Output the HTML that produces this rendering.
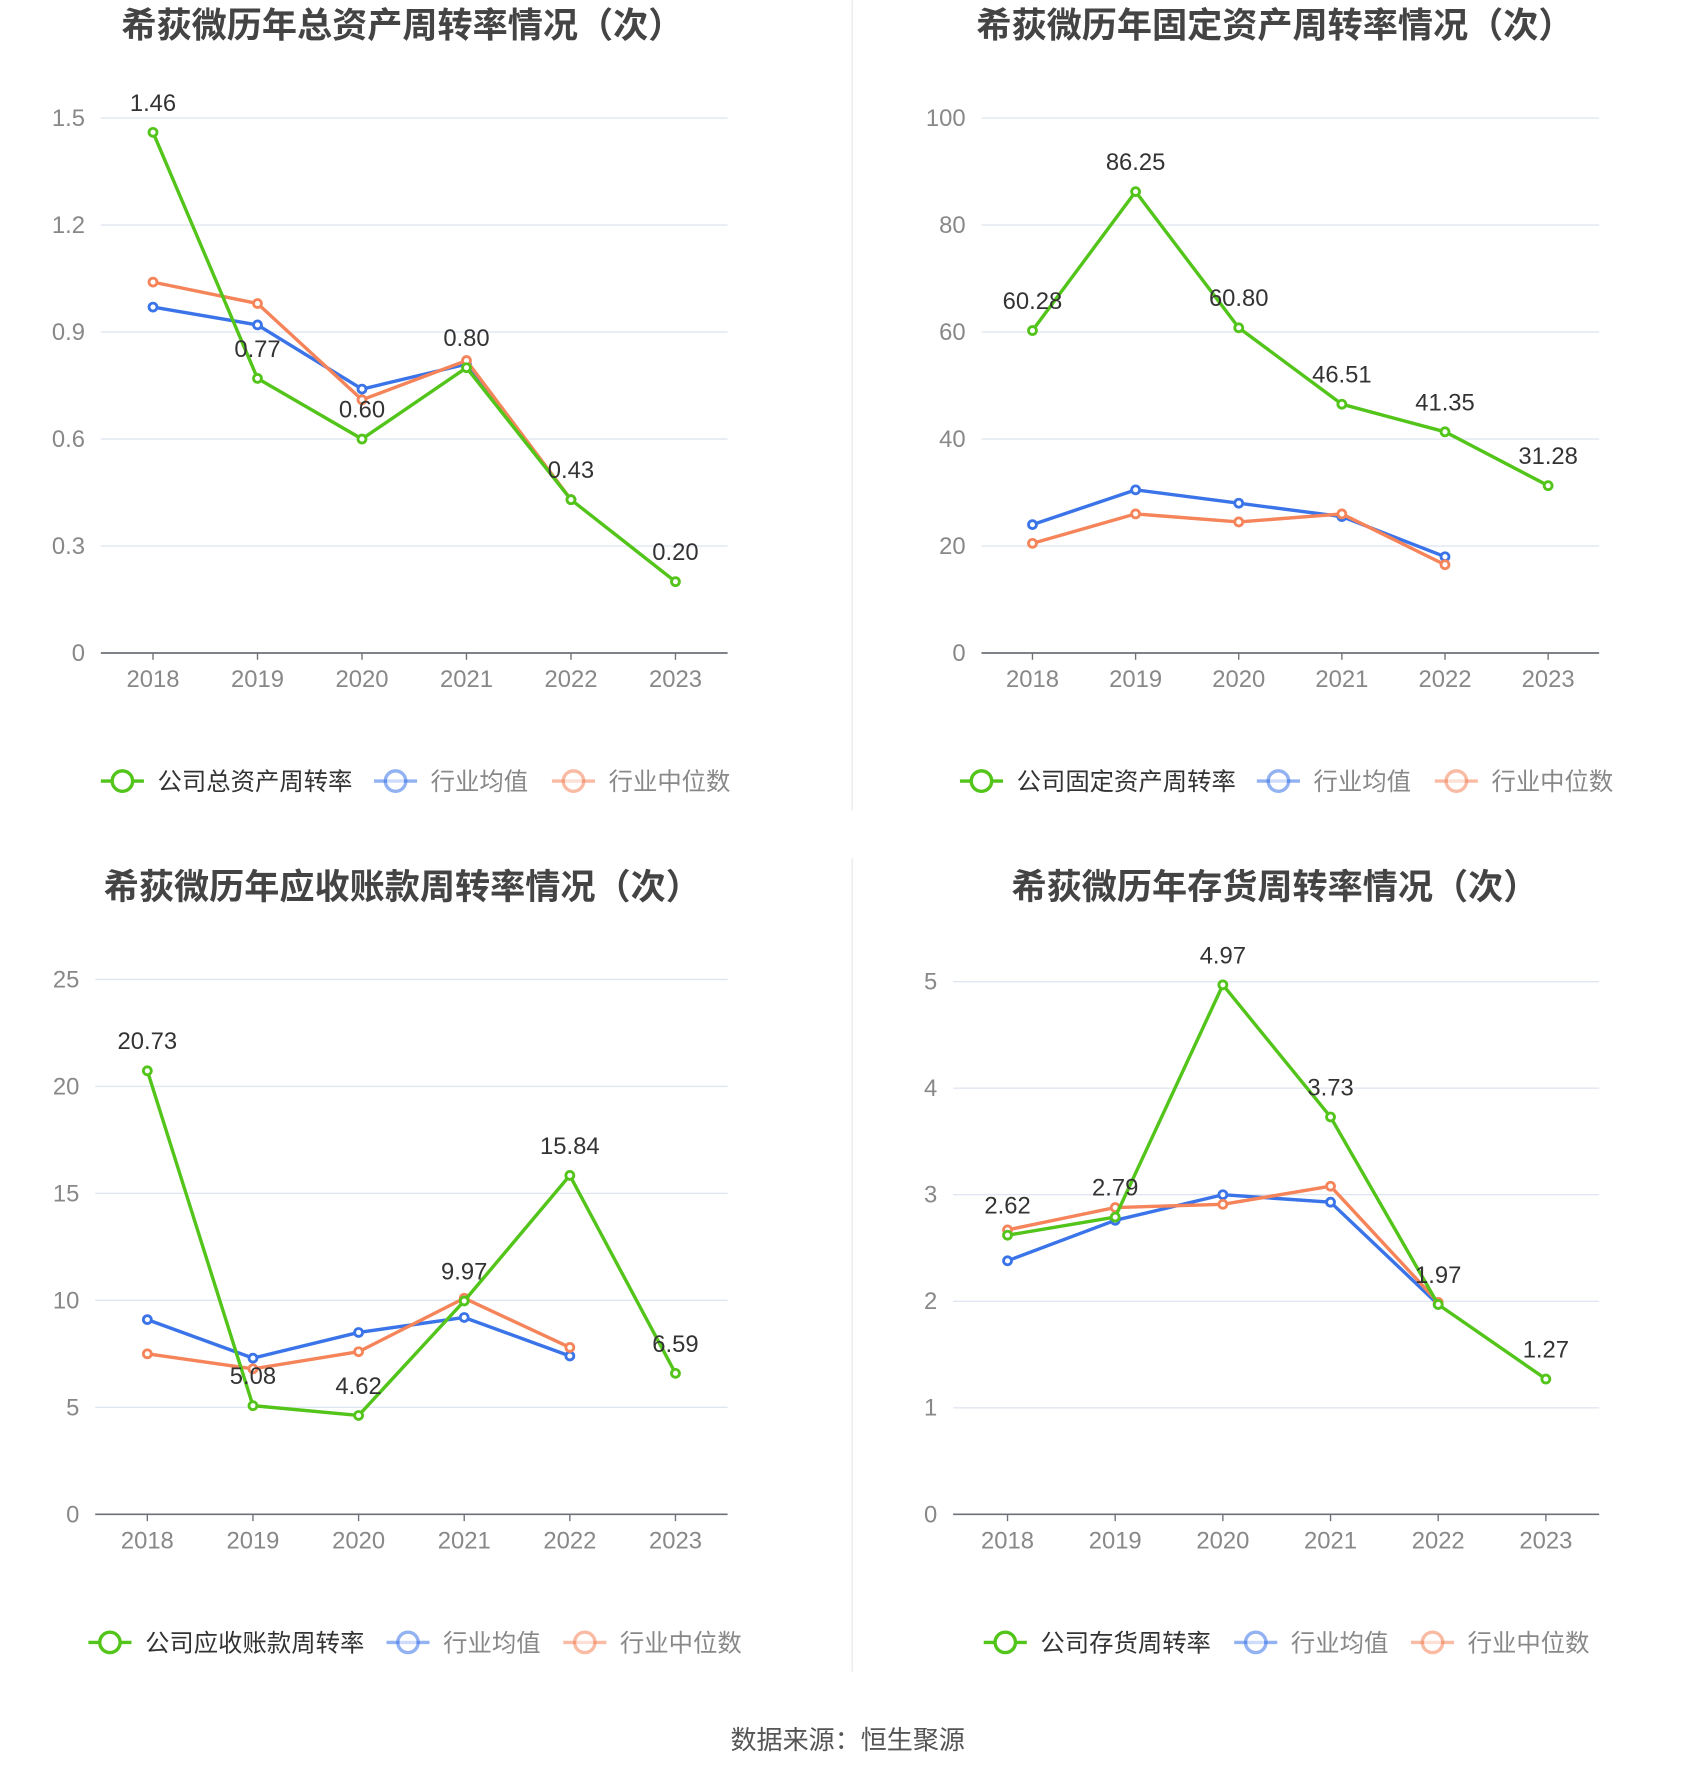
<!DOCTYPE html>
<html><head><meta charset="utf-8">
<style>
html,body{margin:0;padding:0;background:#fff;}
svg{display:block;font-family:"Liberation Sans","Noto Sans CJK SC",sans-serif;}
</style></head>
<body>
<svg id="root" width="1700" height="1782" viewBox="0 0 1500 1572" xmlns="http://www.w3.org/2000/svg">
<line x1="752" y1="0" x2="752" y2="715" stroke="#eeeeee" stroke-width="1.5"/>
<line x1="752" y1="757" x2="752" y2="1475" stroke="#eeeeee" stroke-width="1.5"/>
<text x="748" y="1543" text-anchor="middle" font-size="23" fill="#555">数据来源：恒生聚源</text>
</svg>
<script>
const years = ["2018","2019","2020","2021","2022","2023"];
const c1Company = [1.46,0.77,0.60,0.80,0.43,0.20];
const c1Avg = [0.97,0.92,0.74,0.81,0.43,null];
const c1Median = [1.04,0.98,0.71,0.82,0.43,null];
const c1Ticks = [0,0.3,0.6,0.9,1.2,1.5];
const c1Labels = ["0","0.3","0.6","0.9","1.2","1.5"];
const c2Company = [60.28,86.25,60.80,46.51,41.35,31.28];
const c2Avg = [24.0,30.5,28.0,25.5,18.0,null];
const c2Median = [20.5,26.0,24.5,26.0,16.5,null];
const c2Ticks = [0,20,40,60,80,100];
const c2Labels = ["0","20","40","60","80","100"];
const c3Company = [20.73,5.08,4.62,9.97,15.84,6.59];
const c3Avg = [9.1,7.3,8.5,9.2,7.4,null];
const c3Median = [7.5,6.8,7.6,10.1,7.8,null];
const c3Ticks = [0,5,10,15,20,25];
const c3Labels = ["0","5","10","15","20","25"];
const c4Company = [2.62,2.79,4.97,3.73,1.97,1.27];
const c4Avg = [2.38,2.76,3.00,2.93,1.97,null];
const c4Median = [2.67,2.88,2.91,3.08,1.99,null];
const c4Ticks = [0,1,2,3,4,5];
const c4Labels = ["0","1","2","3","4","5"];

const NS="http://www.w3.org/2000/svg";
const root=document.getElementById('root');
function mk(tag,attrs,parent){const e=document.createElementNS(NS,tag);for(const k in attrs)e.setAttribute(k,attrs[k]);(parent||root).appendChild(e);return e;}
const GREEN="#52c41a",BLUE="#3a74e8",ORANGE="#f5845a";

function chart(cfg){
  const g=mk('g',{});
  
  
  const t=mk('text',{x:cfg.tx,y:cfg.ty,'text-anchor':'middle','font-size':31,'font-weight':'bold',fill:'#444'},g);
  
  
  t.textContent=cfg.title;
  const max=cfg.ticks[cfg.ticks.length-1];
  const ys=v=>cfg.y0-(v/max)*(cfg.y0-cfg.yTop);
  const xs=i=>cfg.xa+i*(cfg.xb-cfg.xa)/(years.length-1);
  cfg.ticks.forEach((v,i)=>{
    if(v>0){const l=mk('line',{x1:cfg.gx1,x2:cfg.gx2,y1:ys(v),y2:ys(v),stroke:'#e0e6f1','stroke-width':1.2},g);
    }
    const tl=mk('text',{x:cfg.lx,y:ys(v)+7,'text-anchor':'end','font-size':21,fill:'#888'},g);
    
    tl.textContent=cfg.labels[i];
  });
  const ax=mk('line',{x1:cfg.gx1,x2:cfg.gx2,y1:cfg.y0,y2:cfg.y0,stroke:'#6e7079','stroke-width':1.5},g);
  
  years.forEach((y,i)=>{
    const tk=mk('line',{x1:xs(i),x2:xs(i),y1:cfg.y0,y2:cfg.y0+6,stroke:'#6e7079','stroke-width':1.2},g);
    
    const tl=mk('text',{x:xs(i),y:cfg.y0+30,'text-anchor':'middle','font-size':21,fill:'#888'},g);
    
    tl.textContent=y;
  });
  const series=[[cfg.avg,BLUE,'industry-average'],[cfg.median,ORANGE,'industry-median'],[cfg.company,GREEN,'company']];
  series.forEach(([arr,col,nm])=>{
    let d='';arr.forEach((v,i)=>{if(v!==null)d+=(d?'L':'M')+xs(i)+','+ys(v);});
    const p=mk('path',{d:d,fill:'none',stroke:col,'stroke-width':3,'stroke-linejoin':'round'},g);
    
    arr.forEach((v,i)=>{if(v===null)return;
      const c=mk('circle',{cx:xs(i),cy:ys(v),r:3.5,fill:'#fff',stroke:col,'stroke-width':2.5},g);
      
    });
  });
  cfg.company.forEach((v,i)=>{
    const l=mk('text',{x:xs(i),y:ys(v)-19,'text-anchor':'middle','font-size':21,fill:'#333'},g);
    
    l.textContent=v.toFixed(2);
  });
  const leg=[[GREEN,cfg.legName,'#333',1],[BLUE,'行业均值','#888',0.55],[ORANGE,'行业中位数','#888',0.55]];
  leg.forEach(([col,txt,tc,op],k)=>{
    const lg=mk('g',{opacity:1},g);
    
    const ix=cfg.legX[k],yy=cfg.legY;
    mk('line',{x1:ix-19,x2:ix+19,y1:yy,y2:yy,stroke:col,'stroke-width':3,opacity:op},lg);
    mk('circle',{cx:ix,cy:yy,r:9,fill:'#fff',stroke:col,'stroke-width':3,opacity:op},lg);
    const tt=mk('text',{x:ix+31,y:yy+8,'font-size':21.5,fill:tc},lg);
    tt.textContent=txt;
  });
}
chart({name:'total-asset-turnover-chart',title:'希荻微历年总资产周转率情况（次）',tx:355,ty:33,xa:135,xb:596,y0:576,yTop:104,gx1:89,gx2:642,lx:75,ticks:c1Ticks,labels:c1Labels,company:c1Company,avg:c1Avg,median:c1Median,legName:'公司总资产周转率',legX:[108,349,506],legY:689});
chart({name:'fixed-asset-turnover-chart',title:'希荻微历年固定资产周转率情况（次）',tx:1125,ty:33,xa:911,xb:1366,y0:576,yTop:104,gx1:866,gx2:1411,lx:852,ticks:c2Ticks,labels:c2Labels,company:c2Company,avg:c2Avg,median:c2Median,legName:'公司固定资产周转率',legX:[866,1128,1285],legY:689});
chart({name:'receivables-turnover-chart',title:'希荻微历年应收账款周转率情况（次）',tx:355,ty:793,xa:130,xb:596,y0:1336,yTop:864,gx1:84,gx2:642,lx:70,ticks:c3Ticks,labels:c3Labels,company:c3Company,avg:c3Avg,median:c3Median,legName:'公司应收账款周转率',legX:[97,360,516],legY:1449});
chart({name:'inventory-turnover-chart',title:'希荻微历年存货周转率情况（次）',tx:1125,ty:793,xa:889,xb:1364,y0:1336,yTop:866,gx1:841,gx2:1411,lx:827,ticks:c4Ticks,labels:c4Labels,company:c4Company,avg:c4Avg,median:c4Median,legName:'公司存货周转率',legX:[887,1108,1264],legY:1449});
</script>
</body></html>
